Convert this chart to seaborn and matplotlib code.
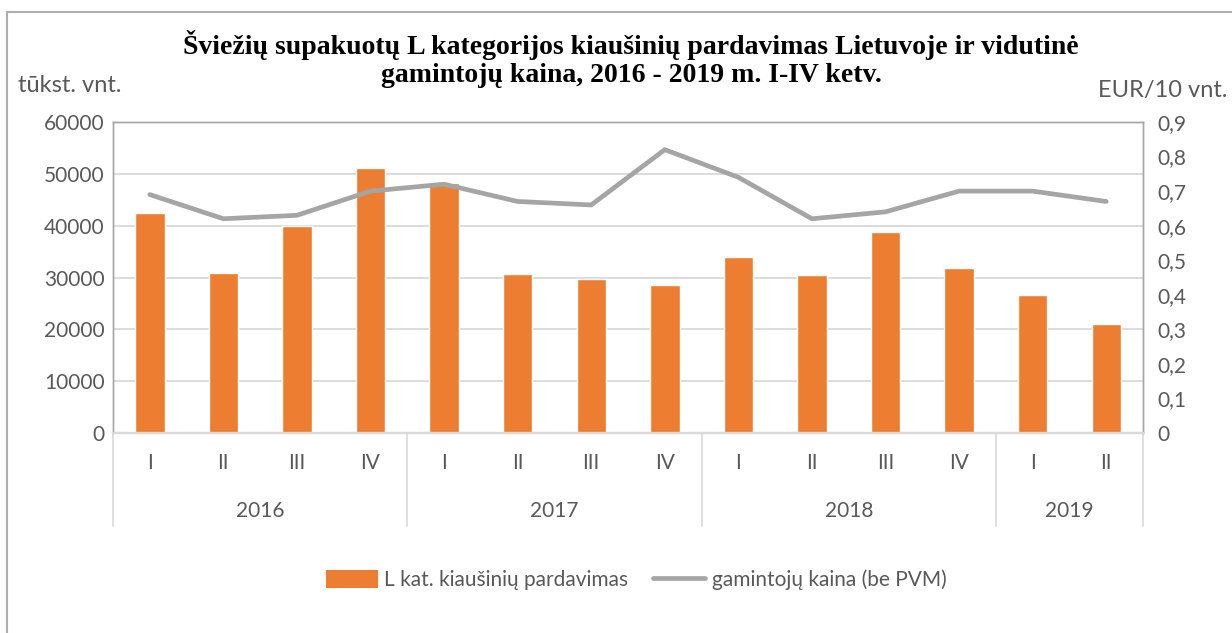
import numpy as np
import pandas as pd
import matplotlib
matplotlib.use("Agg")
import matplotlib.pyplot as plt
import matplotlib.transforms as mtransforms
from matplotlib.lines import Line2D
from matplotlib.patches import Patch
import seaborn as sns

# --- DATA ---
years = ["2016", "2017", "2018", "2019"]
quarters = ["I", "II", "III", "IV", "I", "II", "III", "IV",
            "I", "II", "III", "IV", "I", "II"]
quarter_year = ["2016"] * 4 + ["2017"] * 4 + ["2018"] * 4 + ["2019"] * 2
sales = [42400, 30900, 40000, 51100, 48300, 30700, 29700, 28600,
         34000, 30500, 38700, 31900, 26600, 21000]
price = [0.69, 0.62, 0.63, 0.70, 0.72, 0.67, 0.66, 0.82,
         0.74, 0.62, 0.64, 0.70, 0.70, 0.67]

bar_label = "L kat. kiaušinių pardavimas"
line_label = "gamintojų kaina (be PVM)"
title = ("Šviežių supakuotų L kategorijos kiaušinių pardavimas Lietuvoje ir vidutinė\n"
         "gamintojų kaina, 2016 - 2019 m. I-IV ketv.")

df = pd.DataFrame({"pos": np.arange(len(sales)), "sales": sales, "price": price})

# --- STYLE ---
sns.set_style("white")
plt.rcParams["font.family"] = ["Lato", "DejaVu Sans"]
TXT = "#595959"
ORANGE = "#ED7D31"
GREY = "#A5A5A5"
GRID = "#D9D9D9"
FS = 15

fig = plt.figure(figsize=(12.32, 6.33), dpi=100)
ax = fig.add_axes([113 / 1232, 1 - 433 / 633, (1143 - 113) / 1232, (433 - 122) / 633])

sns.barplot(data=df, x="pos", y="sales", color=ORANGE, width=0.4,
            saturation=1, ax=ax, zorder=2)
ax.set_xlim(-0.5, len(sales) - 0.5)
ax.set_ylim(0, 60000)
ax.set_yticks(np.arange(0, 60001, 10000))
ax.set_yticklabels([str(v) for v in range(0, 60001, 10000)])
ax.yaxis.grid(True, color=GRID, linewidth=1.3, zorder=0)
ax.set_axisbelow(True)
ax.set_xticks([])
ax.set_xlabel("")
ax.set_ylabel("")
ax.tick_params(axis="y", length=0, labelsize=FS, labelcolor=TXT, pad=6)

ax2 = ax.twinx()
sns.lineplot(data=df, x="pos", y="price", color=GREY, linewidth=3.4,
             ax=ax2, zorder=3)
ax2.set_ylim(0, 0.9)
ax2.set_yticks(np.arange(0, 0.91, 0.1))
ax2.set_yticklabels(["0"] + [f"{v:.1f}".replace(".", ",") for v in np.arange(0.1, 0.91, 0.1)])
ax2.set_xlim(-0.5, len(sales) - 0.5)
ax2.set_xlabel("")
ax2.set_ylabel("")
ax2.tick_params(axis="y", length=0, labelsize=FS, labelcolor=TXT, pad=10)

for a in (ax, ax2):
    for s in ("top", "left", "right"):
        a.spines[s].set_color("#A6A6A6")
        a.spines[s].set_linewidth(1.0)
    a.spines["bottom"].set_color(GRID)
    a.spines["bottom"].set_linewidth(1.6)

# multi-level category axis
trans = mtransforms.blended_transform_factory(ax.transData, ax.transAxes)
for i, q in enumerate(quarters):
    ax.text(i, -0.095, q, transform=trans, ha="center", va="center",
            fontsize=FS, color=TXT)
bounds = [-0.5]
start = 0
for y in years:
    n = quarter_year.count(y)
    ax.text(start + (n - 1) / 2, -0.25, y, transform=trans, ha="center",
            va="center", fontsize=FS, color=TXT)
    start += n
    bounds.append(start - 0.5)
for b in bounds:
    ax.add_line(Line2D([b, b], [0, -0.3], transform=trans, color=GRID,
                       linewidth=1.2, clip_on=False))

# titles and unit labels
fig.text(631 / 1232, 1 - 59 / 633, title, ha="center", va="center", fontsize=20,
         fontweight="bold", family=["Liberation Serif", "DejaVu Serif"],
         linespacing=1.2, color="black")
fig.text(18 / 1232, 1 - 86 / 633, "tūkst. vnt.", ha="left", va="center",
         fontsize=17, color=TXT)
fig.text(1228 / 1232, 1 - 90 / 633, "EUR/10 vnt.", ha="right", va="center",
         fontsize=17, color=TXT)

# legend
handles = [Patch(facecolor=ORANGE, edgecolor="none", label=bar_label),
           Line2D([0], [0], color=GREY, linewidth=3.4, label=line_label)]
fig.legend(handles=handles, loc="center", bbox_to_anchor=(636 / 1232, 1 - 580 / 633),
           ncol=2, frameon=False, fontsize=FS, labelcolor=TXT,
           handlelength=2.5, handleheight=0.9, handletextpad=0.3, columnspacing=1.2)

# outer chart frame
fig.add_artist(Line2D([7 / 1232, 1], [1 - 12 / 633] * 2, transform=fig.transFigure,
                      color="#ADADAD", linewidth=1.5))
fig.add_artist(Line2D([7 / 1232] * 2, [0, 1 - 12 / 633], transform=fig.transFigure,
                      color="#ADADAD", linewidth=1.5))

fig.savefig("out.png", dpi=100)
